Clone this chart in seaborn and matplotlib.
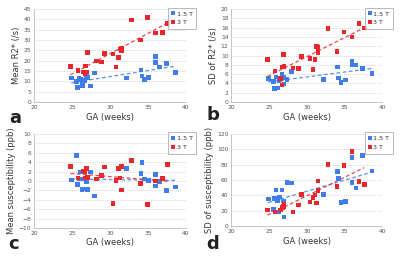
import numpy as np
import pandas as pd
import matplotlib
matplotlib.use("Agg")
import matplotlib.pyplot as plt
import seaborn as sns

# ---- data ----
ga_15 = [24.9, 25.6, 25.7, 25.9, 26.1, 26.3, 26.4, 26.7, 26.9, 27.0, 27.4, 28.0,
         32.2, 34.1, 34.2, 34.5, 35.1, 36.0, 36.0, 36.5, 37.4, 38.6]
ga_3 = [24.8, 25.8, 26.5, 26.7, 26.8, 26.9, 27.0, 28.2, 28.9, 29.3, 30.4, 30.8,
        31.1, 31.3, 31.5, 31.5, 32.8, 34.0, 34.9, 36.0, 36.9, 37.6]

r2_mean_15 = [11.6, 9.8, 7.1, 11.4, 10.8, 8.7, 7.9, 10.3, 12.7, 11.9, 7.7, 14.1,
              11.7, 15.6, 12.7, 10.8, 11.9, 22.0, 19.0, 17.0, 18.8, 14.3]
r2_mean_3 = [17.2, 15.3, 14.5, 13.7, 17.5, 14.5, 24.0, 19.8, 19.3, 23.6, 23.3, 16.9,
             21.7, 25.7, 24.9, 26.0, 39.7, 30.1, 40.8, 33.4, 33.8, 38.1]

r2_sd_15 = [5.1, 4.4, 2.9, 5.4, 3.0, 4.6, 4.7, 5.9, 5.3, 3.9, 4.9, 6.6,
            4.9, 7.5, 5.2, 4.2, 4.7, 8.7, 8.0, 8.0, 7.2, 6.2]
r2_sd_3 = [9.2, 6.7, 5.0, 3.7, 7.5, 10.2, 7.6, 7.3, 7.2, 9.8, 9.4, 7.0,
           9.1, 12.0, 11.7, 10.6, 15.8, 10.9, 15.1, 14.0, 16.9, 15.9]

sus_mean_15 = [0.2, 5.4, -0.7, 0.4, 1.9, -1.8, 0.4, -1.7, -0.1, -1.8, 1.9, -3.2,
               2.6, 1.6, 3.9, 0.4, 0.1, 1.4, -1.1, -0.1, -2.1, -1.3]
sus_mean_3 = [3.1, 0.6, 2.1, 2.0, 0.6, 2.7, 0.7, 0.4, 1.1, 3.0, -4.8, 0.1,
              2.7, 0.6, 3.1, -1.9, 4.4, -0.6, -5.0, 0.0, 0.5, 3.5]

sus_sd_15 = [35.1, 21.6, 35.9, 46.8, 32.5, 18.6, 37.7, 47.2, 32.9, 11.7, 56.7, 56.0,
             41.1, 71.0, 62.3, 30.7, 32.0, 89.6, 56.7, 49.8, 92.2, 71.9]
sus_sd_3 = [21.2, 18.2, 21.2, 23.4, 24.2, 25.5, 28.1, 18.6, 27.3, 41.1, 31.2, 37.2,
            40.3, 30.3, 58.9, 46.3, 80.1, 51.9, 78.8, 97.0, 58.0, 54.5]

field_labels = ["1.5 T", "3 T"]
panel_letters = ["a", "b", "c", "d"]
y_labels = ["Mean R2* (/s)", "SD of R2* (/s)",
            "Mean susceptibility (ppb)", "SD of susceptibility (ppb)"]
y_ranges = [(0, 45, 5), (0, 20, 2), (-10, 10, 2), (0, 120, 20)]

panels = [(r2_mean_15, r2_mean_3), (r2_sd_15, r2_sd_3),
          (sus_mean_15, sus_mean_3), (sus_sd_15, sus_sd_3)]

BLUE = "#3f7ee8"
RED = "#e8262b"

sns.set_theme(style="white")
plt.rcParams['font.family'] = ['DejaVu Sans']

fig = plt.figure(figsize=(4.0, 2.59), dpi=100)
boxes = [[0.085, 0.606, 0.38, 0.359],
         [0.578, 0.606, 0.378, 0.359],
         [0.085, 0.120, 0.38, 0.363],
         [0.578, 0.127, 0.378, 0.356]]
letter_pos = [(0.022, 0.525), (0.515, 0.535), (0.02, 0.04), (0.515, 0.04)]

for i, (v15, v3) in enumerate(panels):
    ax = fig.add_axes(boxes[i])
    df = pd.DataFrame({
        "GA": ga_15 + ga_3,
        "val": list(v15) + list(v3),
        "field": [field_labels[0]] * len(ga_15) + [field_labels[1]] * len(ga_3),
    })
    # dashed linear trendlines (no CI band)
    for lab, col in zip(field_labels, [BLUE, RED]):
        sub = df[df["field"] == lab]
        sns.regplot(data=sub, x="GA", y="val", ax=ax, scatter=False, ci=None,
                    truncate=True, color=col,
                    line_kws={"ls": (0, (3, 2)), "lw": 0.9, "alpha": 0.85})
    sns.scatterplot(data=df, x="GA", y="val", hue="field", ax=ax,
                    palette=[BLUE, RED], marker="s", s=11, linewidth=0,
                    zorder=3)

    lo, hi, st = y_ranges[i]
    ax.set_xlim(20, 40)
    ax.set_ylim(lo, hi)
    ax.set_xticks(np.arange(20, 41, 5))
    ax.set_yticks(np.arange(lo, hi + 0.1, st))
    ax.yaxis.grid(True, ls=(0, (1, 1.5)), color="#c8c8c8", lw=0.6)
    ax.tick_params(labelsize=4.3, colors="#555555", length=0, pad=2)
    for s in ["top", "right"]:
        ax.spines[s].set_visible(False)
    for s in ["left", "bottom"]:
        ax.spines[s].set_color("#bbbbbb")
        ax.spines[s].set_linewidth(0.6)
    ax.set_xlabel("GA (weeks)", fontsize=6.0, color="#333333", labelpad=2)
    ax.set_ylabel(y_labels[i], fontsize=6.0, color="#333333", labelpad=2)

    leg = ax.legend(loc="upper right", bbox_to_anchor=(1.09, 1.05), fontsize=4.6,
                    frameon=True, fancybox=False, edgecolor="#999999",
                    handlelength=0.5, handletextpad=0.3, borderpad=0.55,
                    labelspacing=0.5, markerscale=0.7)
    leg.get_frame().set_linewidth(0.6)
    for t in leg.get_texts():
        t.set_color("#333333")

    fig.text(letter_pos[i][0], letter_pos[i][1], panel_letters[i],
             fontsize=13, fontweight="bold", color="#222222")

fig.savefig("out.png", dpi=100)
